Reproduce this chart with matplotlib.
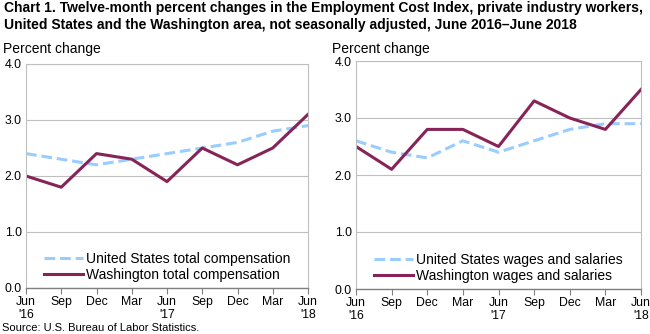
import numpy as np
import matplotlib.pyplot as plt

plt.rcParams["font.family"] = ["Liberation Sans", "DejaVu Sans"]

# ------------------------------------------------------------
# DATA
# ------------------------------------------------------------
quarters = ["Jun\n'16", "Sep", "Dec", "Mar", "Jun\n'17", "Sep", "Dec", "Mar", "Jun\n'18"]

us_total = [2.4, 2.3, 2.2, 2.3, 2.4, 2.5, 2.6, 2.8, 2.9]
wa_total = [2.0, 1.8, 2.4, 2.3, 1.9, 2.5, 2.2, 2.5, 3.1]

us_wages = [2.6, 2.4, 2.3, 2.6, 2.4, 2.6, 2.8, 2.9, 2.9]
wa_wages = [2.5, 2.1, 2.8, 2.8, 2.5, 3.3, 3.0, 2.8, 3.5]

y_ticks = [0.0, 1.0, 2.0, 3.0, 4.0]

blue = "#99CCFF"
maroon = "#862457"

# ------------------------------------------------------------
# FIGURE
# ------------------------------------------------------------
fig = plt.figure(figsize=(6.5, 3.34), dpi=100)
W, H = 650, 334

fig.text(4 / W, 1 - 1 / H,
         "Chart 1. Twelve-month percent changes in the Employment Cost Index, private industry workers,\n"
         "United States and the Washington area, not seasonally adjusted, June 2016\u2013June 2018",
         ha="left", va="top", fontsize=10, fontweight="bold", linespacing=1.3)

fig.text(2 / W, 1 - 333 / H, "Source: U.S. Bureau of Labor Statistics.",
         ha="left", va="bottom", fontsize=8)

panels = [
    (26, 308, 64, 288, 3, us_total, wa_total,
     "United States total compensation", "Washington total compensation"),
    (356, 641, 61, 289, 332, us_wages, wa_wages,
     "United States wages and salaries", "Washington wages and salaries"),
]

x = np.arange(len(quarters))

for left, right, top, bottom, lab_x, us, wa, us_lab, wa_lab in panels:
    ax = fig.add_axes([left / W, 1 - bottom / H, (right - left) / W, (bottom - top) / H])

    ax.plot(x, us, color=blue, lw=2.2, ls=(0, (3.5, 1.6)), label=us_lab)
    ax.plot(x, wa, color=maroon, lw=2.2, label=wa_lab)

    ax.set_xlim(0, len(quarters) - 1)
    ax.set_ylim(0, 4)
    ax.set_yticks(y_ticks)
    ax.set_yticklabels([f"{v:.1f}" for v in y_ticks])
    ax.set_xticks(x)
    ax.set_xticklabels(quarters, linespacing=1.05)

    ax.grid(axis="y", color="#BFBFBF", lw=0.8)
    ax.set_axisbelow(True)

    for s in ["top", "right", "left"]:
        ax.spines[s].set_color("#BFBFBF")
        ax.spines[s].set_linewidth(0.8)
    ax.spines["bottom"].set_color("#808080")
    ax.spines["bottom"].set_linewidth(1)

    ax.tick_params(axis="y", length=0, pad=3, labelsize=8.8)
    ax.tick_params(axis="x", length=4, color="#808080", pad=2, labelsize=8.8)

    fig.text(lab_x / W, 1 - 53 / H, "Percent change",
             ha="left", va="baseline", fontsize=10)

    ax.legend(loc="lower left", bbox_to_anchor=(0.03, -0.015), frameon=False,
              fontsize=10, handlelength=2.8, handletextpad=0.2,
              labelspacing=0.12, borderpad=0.2)

plt.savefig("out.png", dpi=100)
